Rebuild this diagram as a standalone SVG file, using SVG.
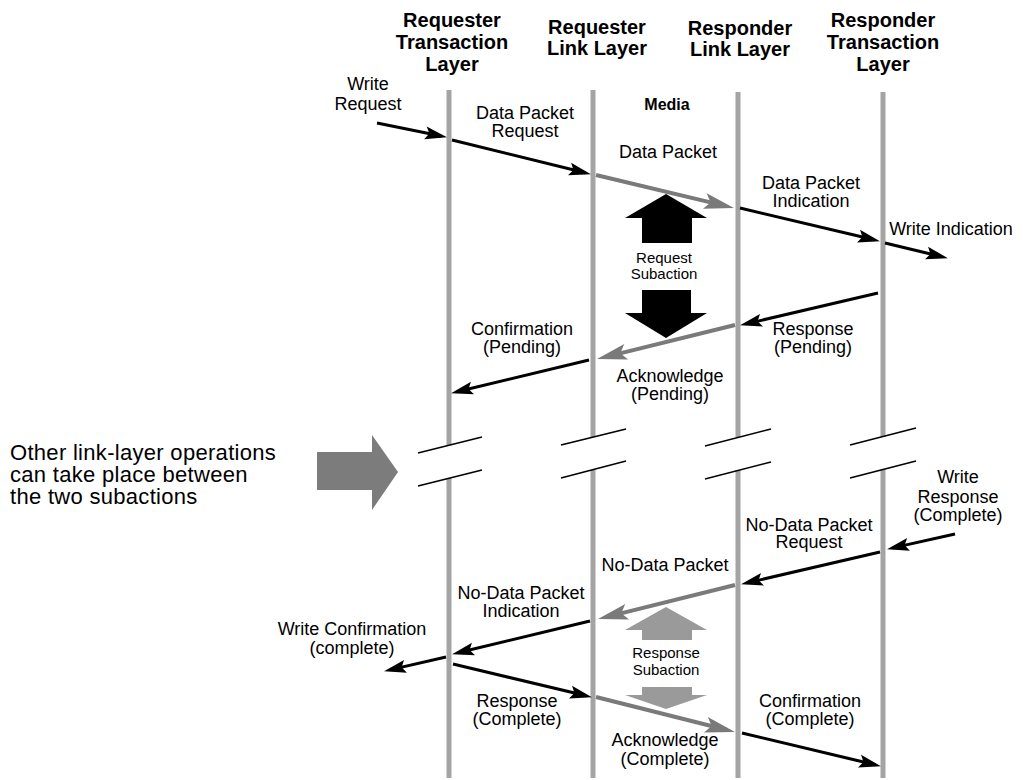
<svg xmlns="http://www.w3.org/2000/svg" width="1023" height="780" viewBox="0 0 1023 780">
<defs>
<style>
.hdr{font-family:"Liberation Sans",Arial,sans-serif;font-weight:bold;font-size:20px;fill:#000;text-anchor:middle}
.lbl{font-family:"Liberation Sans",Arial,sans-serif;font-size:18px;fill:#000;text-anchor:middle}
.sm{font-family:"Liberation Sans",Arial,sans-serif;font-size:15px;fill:#000;text-anchor:middle}
.big{font-family:"Liberation Sans",Arial,sans-serif;font-size:22px;fill:#000;letter-spacing:0.3px}
.life{stroke:#a4a4a4;stroke-width:5;fill:none}
.brk{stroke:#000;stroke-width:1.5;fill:none}
.msg{stroke:#000;stroke-width:3;fill:none;marker-end:url(#ah)}
.gmsg{stroke:#7a7a7a;stroke-width:4;fill:none;marker-end:url(#gh)}
</style>
<marker id="ah" markerWidth="24" markerHeight="14" refX="16" refY="6.5" orient="auto" markerUnits="userSpaceOnUse" overflow="visible">
<path d="M0,0 L22,6.5 L0,13 L4,6.5 z" fill="#000"/>
</marker>
<marker id="gh" markerWidth="32" markerHeight="18" refX="22" refY="8" orient="auto" markerUnits="userSpaceOnUse" overflow="visible">
<path d="M0,0 L30,8 L0,16 L6,8 z" fill="#7a7a7a"/>
</marker>
</defs>
<rect width="1023" height="780" fill="#fff"/>

<g id="lifeline-req-trans">
<text class="hdr" x="452" y="27">Requester</text>
<text class="hdr" x="452" y="49">Transaction</text>
<text class="hdr" x="452" y="71">Layer</text>
<line class="life" x1="449" y1="90" x2="449" y2="445"/>
<line class="life" x1="449" y1="478" x2="449" y2="778"/>
<line class="brk" x1="418" y1="453" x2="482" y2="437"/>
<line class="brk" x1="418" y1="486" x2="482" y2="470"/>
</g>
<g id="lifeline-req-link">
<text class="hdr" x="597" y="34">Requester</text>
<text class="hdr" x="597" y="55">Link Layer</text>
<line class="life" x1="593" y1="90" x2="593" y2="437"/>
<line class="life" x1="593" y1="470" x2="593" y2="778"/>
<line class="brk" x1="561" y1="445" x2="626" y2="429"/>
<line class="brk" x1="561" y1="478" x2="626" y2="461"/>
</g>
<g id="lifeline-resp-link">
<text class="hdr" x="740" y="35">Responder</text>
<text class="hdr" x="740" y="56">Link Layer</text>
<line class="life" x1="738" y1="92" x2="738" y2="437"/>
<line class="life" x1="738" y1="470" x2="738" y2="778"/>
<line class="brk" x1="705" y1="446" x2="771" y2="429"/>
<line class="brk" x1="705" y1="479" x2="771" y2="462"/>
</g>
<g id="lifeline-resp-trans">
<text class="hdr" x="883" y="27">Responder</text>
<text class="hdr" x="883" y="49">Transaction</text>
<text class="hdr" x="883" y="71">Layer</text>
<line class="life" x1="883" y1="92" x2="883" y2="437"/>
<line class="life" x1="883" y1="470" x2="883" y2="778"/>
<line class="brk" x1="850" y1="445" x2="916" y2="428"/>
<line class="brk" x1="850" y1="478" x2="916" y2="461"/>
</g>

<g id="media-label">
<text class="hdr" x="667" y="110" style="font-size:16px">Media</text>
</g>

<g id="request-subaction">
<polygon points="666,194 707,218 692,218 692,243 642,243 642,218 625,218" fill="#000"/>
<text class="sm" x="664" y="263">Request</text>
<text class="sm" x="664" y="279">Subaction</text>
<polygon points="642,290 691,290 691,313 707,313 666,338 625,313 642,313" fill="#000"/>
</g>

<g id="response-subaction">
<polygon points="666,607 707,630 692,630 692,640 642,640 642,630 625,630" fill="#9a9a9a"/>
<text class="sm" x="666" y="658">Response</text>
<text class="sm" x="666" y="675">Subaction</text>
<polygon points="642,687 692,687 692,695 707,695 666,709 625,695 642,695" fill="#9a9a9a"/>
</g>

<g id="other-ops-note">
<text class="big" x="10" y="460">Other link-layer operations</text>
<text class="big" x="10" y="482">can take place between</text>
<text class="big" x="10" y="504">the two subactions</text>
<polygon points="317,452 372,452 372,435 398,472 372,510 372,490 317,490" fill="#7c7c7c"/>
</g>

<g id="connectors">
<line class="msg" x1="377" y1="123" x2="441.1" y2="136"/>
<line class="msg" x1="452" y1="140" x2="585.1" y2="172.8"/>
<line class="gmsg" x1="596" y1="175" x2="726.2" y2="206.1"/>
<line class="msg" x1="740" y1="208" x2="874.1" y2="239.8"/>
<line class="msg" x1="885" y1="243" x2="942.1" y2="256.8"/>
<line class="msg" x1="878" y1="293" x2="745.9" y2="323.9"/>
<line class="gmsg" x1="735" y1="325" x2="604.8" y2="357.1"/>
<line class="msg" x1="589" y1="360" x2="456.9" y2="391.8"/>
<line class="msg" x1="955" y1="534" x2="892.9" y2="547.9"/>
<line class="msg" x1="880" y1="552" x2="746.9" y2="582.9"/>
<line class="gmsg" x1="735" y1="585" x2="605.8" y2="617.1"/>
<line class="msg" x1="590" y1="621" x2="457.9" y2="652.8"/>
<line class="msg" x1="446" y1="657" x2="389.9" y2="669.9"/>
<line class="msg" x1="453" y1="664" x2="586.1" y2="695.8"/>
<line class="gmsg" x1="596" y1="697" x2="727.2" y2="730"/>
<line class="msg" x1="742" y1="733" x2="875.1" y2="764.8"/>
</g>

<g id="labels">
<text class="lbl" x="368" y="90">Write</text>
<text class="lbl" x="368" y="110">Request</text>
<text class="lbl" x="525" y="119">Data Packet</text>
<text class="lbl" x="525" y="137">Request</text>
<text class="lbl" x="668" y="158">Data Packet</text>
<text class="lbl" x="811" y="189">Data Packet</text>
<text class="lbl" x="811" y="207">Indication</text>
<text class="lbl" x="951" y="235">Write Indication</text>
<text class="lbl" x="522" y="335">Confirmation</text>
<text class="lbl" x="522" y="353">(Pending)</text>
<text class="lbl" x="813" y="335">Response</text>
<text class="lbl" x="813" y="353">(Pending)</text>
<text class="lbl" x="670" y="382">Acknowledge</text>
<text class="lbl" x="670" y="400">(Pending)</text>
<text class="lbl" x="958" y="483">Write</text>
<text class="lbl" x="958" y="503">Response</text>
<text class="lbl" x="958" y="521">(Complete)</text>
<text class="lbl" x="809" y="531">No-Data Packet</text>
<text class="lbl" x="809" y="548">Request</text>
<text class="lbl" x="665" y="571">No-Data Packet</text>
<text class="lbl" x="521" y="599">No-Data Packet</text>
<text class="lbl" x="521" y="617">Indication</text>
<text class="lbl" x="352" y="635">Write Confirmation</text>
<text class="lbl" x="352" y="654">(complete)</text>
<text class="lbl" x="517" y="707">Response</text>
<text class="lbl" x="517" y="725">(Complete)</text>
<text class="lbl" x="810" y="707">Confirmation</text>
<text class="lbl" x="810" y="725">(Complete)</text>
<text class="lbl" x="665" y="746">Acknowledge</text>
<text class="lbl" x="665" y="765">(Complete)</text>
</g>
</svg>
